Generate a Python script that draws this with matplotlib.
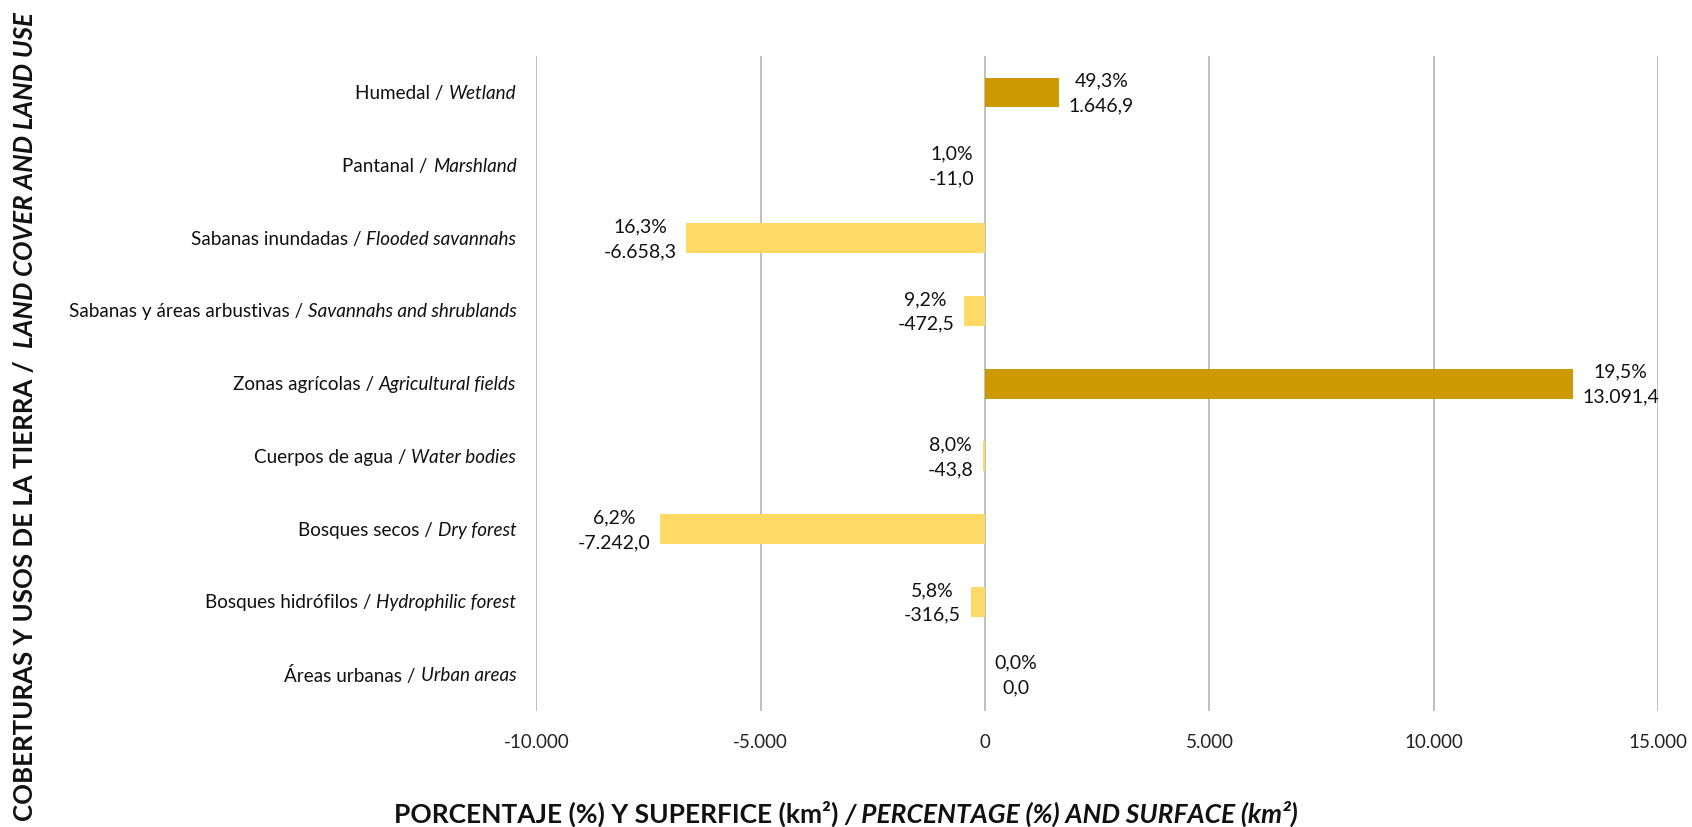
import matplotlib
matplotlib.use("Agg")
import matplotlib.pyplot as plt
from matplotlib import transforms
import numpy as np

# Land cover / land use categories, top to bottom
cat_es = ["Humedal / ", "Pantanal / ", "Sabanas inundadas / ",
          "Sabanas y áreas arbustivas / ", "Zonas agrícolas / ",
          "Cuerpos de agua / ", "Bosques secos / ", "Bosques hidrófilos / ",
          "Áreas urbanas / "]
cat_en = ["Wetland", "Marshland", "Flooded savannahs", "Savannahs and shrublands",
          "Agricultural fields", "Water bodies", "Dry forest",
          "Hydrophilic forest", "Urban areas"]
# Change in surface (km²) and percentage
surface = [1646.9, -11.0, -6658.3, -472.5, 13091.4, -43.8, -7242.0, -316.5, 0.0]
percent = [49.3, 1.0, 16.3, 9.2, 19.5, 8.0, 6.2, 5.8, 0.0]
xticks = [-10000, -5000, 0, 5000, 10000, 15000]

FONT = "Lato"
plt.rcParams["font.family"] = [FONT, "DejaVu Sans"]

POS_COLOR = "#CC9900"
NEG_COLOR = "#FFD966"


def es_num(v, decimals=1):
    s = f"{abs(v):,.{decimals}f}"
    s = s.replace(",", "X").replace(".", ",").replace("X", ".")
    return ("-" if v < 0 else "") + s


fig = plt.figure(figsize=(16.92, 8.28), dpi=100)
ax = fig.add_axes([0.317, 0.140, 0.663, 0.791])

n = len(surface)
y = np.arange(n)
colors = [POS_COLOR if v >= 0 else NEG_COLOR for v in surface]
ax.barh(y, surface, height=0.41, color=colors, zorder=3)

ax.set_xlim(-10000, 15000)
ax.set_ylim(n - 0.5, -0.5)
ax.set_xticks(xticks)
ax.set_xticklabels([es_num(t, 0) for t in xticks], fontsize=13.5, color="#222222")
ax.set_yticks([])
ax.tick_params(axis="x", length=0, pad=16)
ax.grid(axis="x", color="#BFBFBF", lw=1.4, zorder=0)
for sp in ax.spines.values():
    sp.set_visible(False)

# Value labels: percentage above, surface below
for i, (v, p) in enumerate(zip(surface, percent)):
    txt = f"{es_num(p)}%\n{es_num(v)}"
    off, ha = (7, "left") if v >= 0 else (-7, "right")
    ax.annotate(txt, xy=(v, i), xytext=(off, 0), textcoords="offset points",
                ha=ha, va="center", multialignment="center",
                fontsize=14, linespacing=1.55, color="#111111", zorder=4)

fig.canvas.draw()
renderer = fig.canvas.get_renderer()

# Category labels: Spanish regular + English italic
ytrans = ax.get_yaxis_transform()
for i in range(n):
    base = transforms.offset_copy(ytrans, fig, x=-20, y=0, units="dots")
    t_it = ax.text(0, i, cat_en[i], transform=base, ha="right", va="center",
                   fontsize=13.6, fontstyle="italic", color="#111111")
    w = t_it.get_window_extent(renderer).width
    shifted = transforms.offset_copy(ytrans, fig, x=-20 - w, y=0, units="dots")
    ax.text(0, i, cat_es[i], transform=shifted, ha="right", va="center",
            fontsize=13.6, color="#111111")


def mixed_title(pieces, cx, cy, rotation, size):
    """Place consecutive text pieces (text, style) centred on (cx, cy) pixels."""
    arts = []
    for s, style in pieces:
        a = fig.text(0, 0, s, fontsize=size, fontweight="bold", fontstyle=style,
                     rotation=rotation, ha="left", va="center",
                     rotation_mode="anchor", color="#111111")
        arts.append(a)
    fig.canvas.draw()
    lens = []
    for a in arts:
        bb = a.get_window_extent(renderer)
        lens.append(bb.height if rotation == 90 else bb.width)
    total = sum(lens)
    pos = -total / 2
    W, H = fig.bbox.width, fig.bbox.height
    for a, L in zip(arts, lens):
        if rotation == 90:
            a.set_position((cx / W, (cy + pos) / H))
        else:
            a.set_position(((cx + pos) / W, cy / H))
        pos += L


mixed_title([("PORCENTAJE (%) Y SUPERFICE (km²) ", "normal"),
             ("/ PERCENTAGE (%) AND SURFACE (km²)", "italic")],
            cx=846, cy=828 - 814, rotation=0, size=19)
mixed_title([("COBERTURAS Y USOS DE LA TIERRA /  ", "normal"),
             ("LAND COVER AND LAND USE", "italic")],
            cx=25, cy=828 - 417, rotation=90, size=18.6)

fig.savefig("out.png", dpi=100)
